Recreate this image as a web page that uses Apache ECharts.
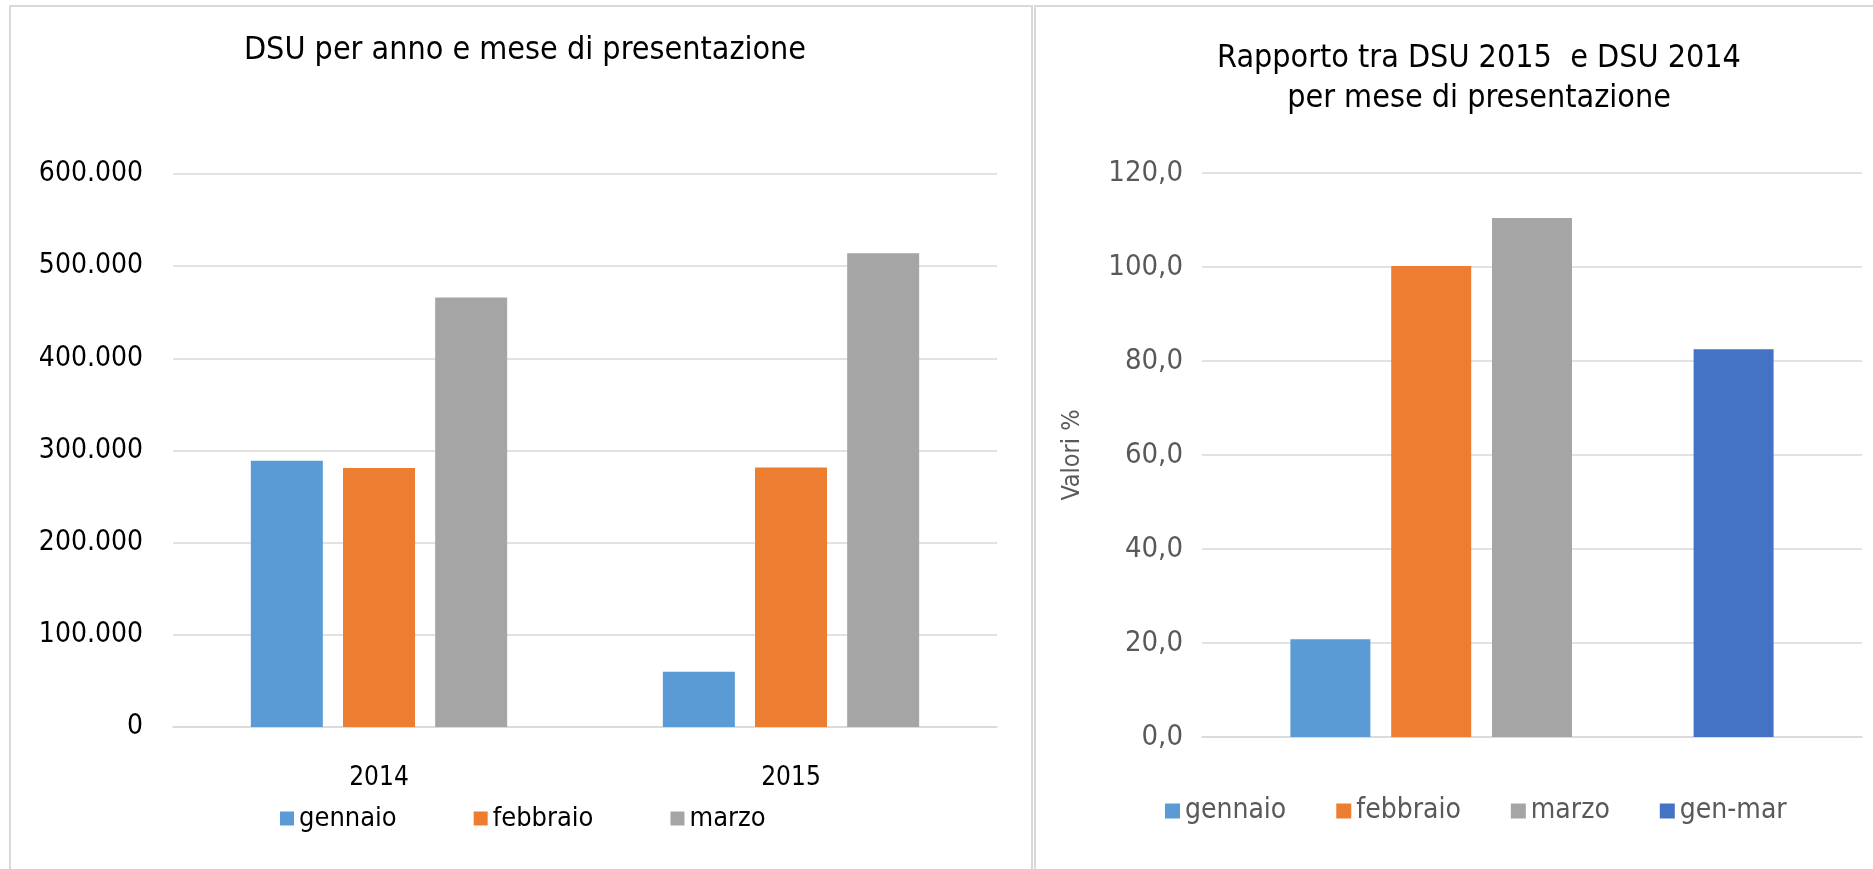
<!DOCTYPE html>
<html>
<head>
<meta charset="utf-8">
<script src="https://cdn.jsdelivr.net/npm/echarts@6.0.0/dist/echarts.min.js"></script>
<style>
html,body{margin:0;padding:0;background:#fff;}
#c{width:1873px;height:869px;}
</style>
</head>
<body>
<div id="c"></div>
<script>
// ---- data ----
const years = ['2014', '2015'];
const gennaio = [289000, 60000];
const febbraio = [281000, 281500];
const marzo = [466000, 514000];

const ratioGennaio = [20.8];
const ratioFebbraio = [100.2];
const ratioMarzo = [110.4];
const ratioGenMar = [82.5];

const legendMonths = ['gennaio', 'febbraio', 'marzo'];
const legendRatio = ['gennaio', 'febbraio', 'marzo', 'gen-mar'];

const leftTitle = 'DSU per anno e mese di presentazione';
const rightTitle = 'Rapporto tra DSU 2015  e DSU 2014\nper mese di presentazione';

const C_GEN = '#5b9bd5', C_FEB = '#ed7d31', C_MAR = '#a5a5a5', C_TOT = '#4472c4';
const FONT = "'DejaVu Sans Condensed', 'DejaVu Sans', sans-serif";
const GRID = '#d9d9d9';

const fmtThousands = v => String(v).replace(/\B(?=(\d{3})+(?!\d))/g, '.');
const fmtDec = v => v.toFixed(1).replace('.', ',');

const chart = echarts.init(document.getElementById('c'), null, {renderer: 'canvas'});

const barL = (name, data, color) => ({
  type: 'bar', name, data, xAxisIndex: 0, yAxisIndex: 0,
  barWidth: 72, barGap: '28%',
  itemStyle: {color}, animation: false
});
const barR = (name, data, color) => ({
  type: 'bar', name, data, xAxisIndex: 1, yAxisIndex: 1,
  barWidth: 80, barGap: '26%',
  itemStyle: {color}, animation: false
});

chart.setOption({
  animation: false,
  textStyle: {fontFamily: FONT},
  graphic: [
    {type: 'rect', shape: {x: 10, y: 6, width: 1022, height: 900},
     style: {fill: 'none', stroke: GRID, lineWidth: 2}, silent: true},
    {type: 'rect', shape: {x: 1035, y: 6, width: 900, height: 900},
     style: {fill: 'none', stroke: GRID, lineWidth: 2}, silent: true}
  ],
  title: [
    {text: leftTitle, left: 520, textAlign: 'center', top: 30,
     textStyle: {fontFamily: FONT, fontSize: 32, fontWeight: 'normal', color: '#000'}},
    {text: rightTitle, left: 1474, textAlign: 'center', top: 34,
     textStyle: {fontFamily: FONT, fontSize: 32, fontWeight: 'normal', color: '#000', lineHeight: 40}}
  ],
  legend: [
    {data: legendMonths, left: 280, top: 805, itemWidth: 14, itemHeight: 14, itemGap: 77, padding: 0,
     icon: 'rect', textStyle: {fontFamily: FONT, fontSize: 27, color: '#000'}},
    {data: legendRatio, left: 1165, top: 797, itemWidth: 15, itemHeight: 15, itemGap: 50, padding: 0,
     icon: 'rect', textStyle: {fontFamily: FONT, fontSize: 28, color: '#595959'}}
  ],
  grid: [
    {left: 173, top: 174, right: 876, bottom: 142, containLabel: false},
    {left: 1202, top: 173, right: 11, bottom: 132, containLabel: false}
  ],
  xAxis: [
    {type: 'category', gridIndex: 0, data: years,
     axisTick: {show: false}, axisLine: {lineStyle: {color: GRID, width: 1.5}},
     axisLabel: {fontFamily: FONT, fontSize: 26, color: '#000', margin: 38}},
    {type: 'category', gridIndex: 1, data: [''],
     axisTick: {show: false}, axisLine: {lineStyle: {color: GRID, width: 1.5}},
     axisLabel: {show: false}}
  ],
  yAxis: [
    {type: 'value', gridIndex: 0, min: 0, max: 600000, interval: 100000,
     axisLine: {show: false}, axisTick: {show: false},
     splitLine: {lineStyle: {color: GRID, width: 1.5}},
     axisLabel: {fontFamily: FONT, fontSize: 28, color: '#000', margin: 30, formatter: fmtThousands}},
    {type: 'value', gridIndex: 1, min: 0, max: 120, interval: 20,
     axisLine: {show: false}, axisTick: {show: false},
     splitLine: {lineStyle: {color: GRID, width: 1.5}},
     name: 'Valori %', nameLocation: 'middle', nameRotate: 90, nameGap: 117,
     nameTextStyle: {fontFamily: FONT, fontSize: 25, color: '#595959'},
     axisLabel: {fontFamily: FONT, fontSize: 29, color: '#595959', margin: 19, formatter: fmtDec}}
  ],
  series: [
    barL('gennaio', gennaio, C_GEN),
    barL('febbraio', febbraio, C_FEB),
    barL('marzo', marzo, C_MAR),
    barR('gennaio', ratioGennaio, C_GEN),
    barR('febbraio', ratioFebbraio, C_FEB),
    barR('marzo', ratioMarzo, C_MAR),
    barR(' ', [null], '#ffffff'),
    barR('gen-mar', ratioGenMar, C_TOT)
  ]
});
</script>
</body>
</html>
